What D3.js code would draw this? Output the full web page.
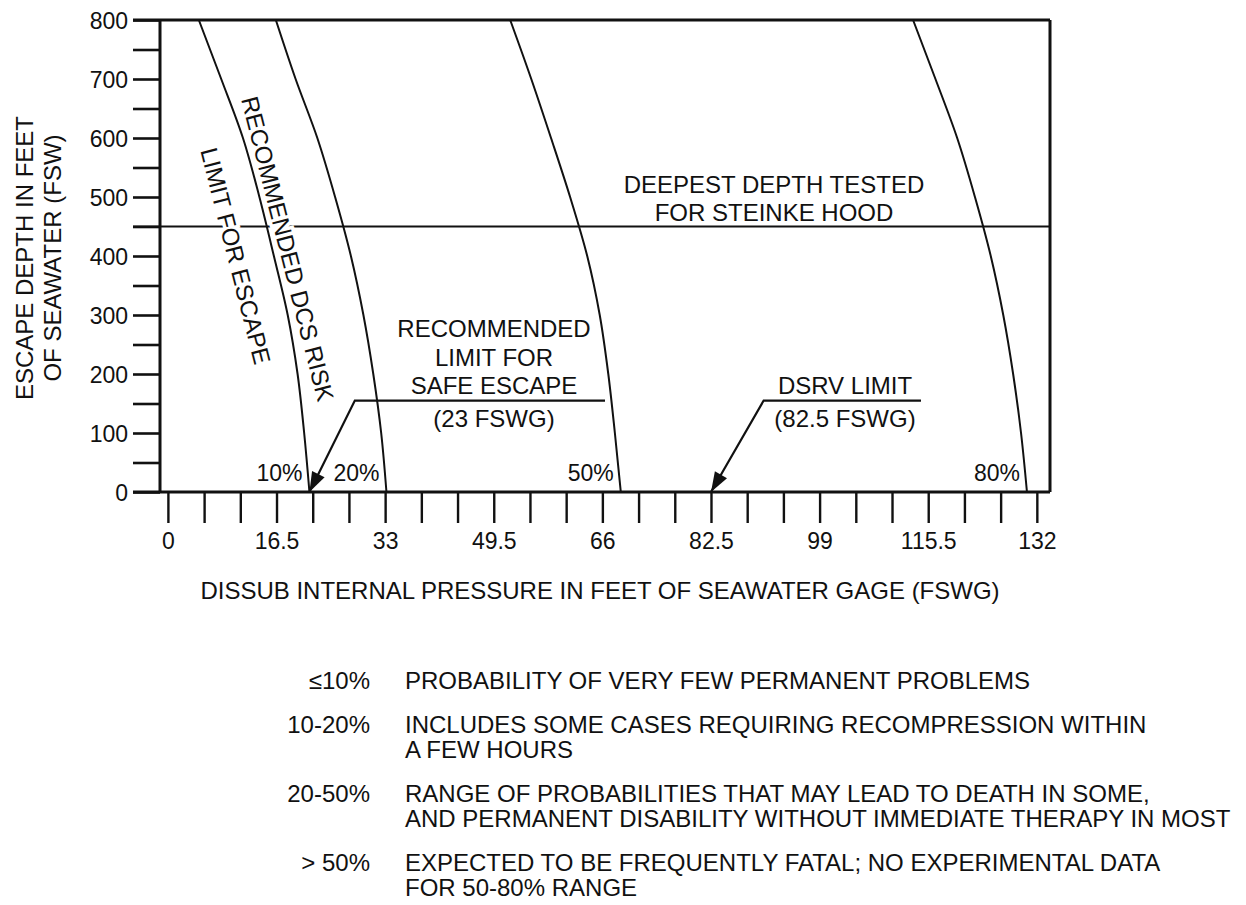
<!DOCTYPE html>
<html>
<head>
<meta charset="utf-8">
<script src="https://cdn.jsdelivr.net/npm/d3@7"></script>
<style>
    body { margin: 0; background: #fff; }
    svg text { font-family: "Liberation Sans", Arial, Helvetica, sans-serif; fill: #111; }
</style>
</head>
<body>
<div id="chart"></div>
<script>

// escape depth levels (fsw) the risk curves are read at
const depthLevels = [800, 700, 600, 500, 400, 300, 200, 100, 0];

// dissub pressure (fswg) of each DCS risk curve at those depths
const curve10 = [4.7, 8.1, 11.4, 13.9, 16.1, 18.2, 19.7, 20.7, 21.5];
const curve20 = [16.4, 19.4, 22.7, 25.4, 27.8, 29.7, 31.2, 32.4, 33.2];
const curve50 = [52.0, 55.2, 58.2, 61.1, 63.7, 65.6, 66.9, 67.9, 68.8];
const curve80 = [113.2, 116.6, 119.9, 122.6, 125.0, 126.9, 128.4, 129.6, 130.5];
const curveLabels = ["10%", "20%", "50%", "80%"];

// axis ticks
const yTicks = [0, 50, 100, 150, 200, 250, 300, 350, 400, 450, 500, 550, 600, 650, 700, 750, 800];
const xTicks = [0, 5.5, 11, 16.5, 22, 27.5, 33, 38.5, 44, 49.5, 55, 60.5, 66, 71.5, 77, 82.5, 88, 93.5, 99, 104.5, 110, 115.5, 121, 126.5, 132];
const xTickLabels = ["0", "16.5", "33", "49.5", "66", "82.5", "99", "115.5", "132"];

// reference values
const hoodDepth = 450;
const safeLimit = 23;
const dsrvLimit = 82.5;

// legend below the chart
const legendRanges = ["\u226410%", "10-20%", "20-50%", "> 50%"];
const legendText = [
    ["PROBABILITY OF VERY FEW PERMANENT PROBLEMS"],
    ["INCLUDES SOME CASES REQUIRING RECOMPRESSION WITHIN", "A FEW HOURS"],
    ["RANGE OF PROBABILITIES THAT MAY LEAD TO DEATH IN SOME,", "AND PERMANENT DISABILITY WITHOUT IMMEDIATE THERAPY IN MOST"],
    ["EXPECTED TO BE FREQUENTLY FATAL; NO EXPERIMENTAL DATA", "FOR 50-80% RANGE"]
];

const width = 1246, height = 905;
const plot = {left: 160, right: 1050, top: 20, bottom: 492};

let svg = d3.select("#chart").append("svg")
    .attr("width", width)
    .attr("height", height);

svg.append("rect").attr("width", width).attr("height", height).attr("fill", "#fff");

// scales
let x = d3.scaleLinear().domain([-1.2, 134.0]).range([plot.left, plot.right]);
let y = d3.scaleLinear().domain([0, 800]).range([plot.bottom, plot.top]);

// y axis ticks
let yAxis = svg.append("g")
    .attr("transform", `translate(${plot.left},0)`)
    .call(d3.axisLeft(y)
        .tickValues(yTicks)
        .tickSize(27)
        .tickPadding(5)
        .tickFormat(d => d % 100 === 0 ? d : ""));
yAxis.select(".domain").remove();
yAxis.selectAll("line").attr("stroke", "#111").attr("stroke-width", 2.6);
yAxis.selectAll("text").style("font-size", "23px").attr("dy", "0.36em");

// x axis ticks
let xAxis = svg.append("g")
    .attr("transform", `translate(0,${plot.bottom})`)
    .call(d3.axisBottom(x)
        .tickValues(xTicks)
        .tickSize(31)
        .tickPadding(10)
        .tickFormat((d, i) => i % 3 === 0 ? xTickLabels[i / 3] : ""));
xAxis.select(".domain").remove();
xAxis.selectAll("line").attr("stroke", "#111").attr("stroke-width", 2.4);
xAxis.selectAll("text").style("font-size", "23px");

// frame
let frame = svg.append("g").attr("stroke", "#111").attr("stroke-width", 3).attr("fill", "none");
frame.append("line").attr("x1", plot.left - 27).attr("x2", plot.right).attr("y1", y(800)).attr("y2", y(800));
frame.append("line").attr("x1", plot.left - 27).attr("x2", plot.right).attr("y1", y(0)).attr("y2", y(0));
frame.append("line").attr("x1", plot.left).attr("x2", plot.left).attr("y1", y(800)).attr("y2", y(0));
frame.append("line").attr("x1", plot.right).attr("x2", plot.right).attr("y1", y(800)).attr("y2", y(0));

// deepest depth tested line
svg.append("line")
    .attr("x1", plot.left - 27).attr("x2", plot.right)
    .attr("y1", y(hoodDepth)).attr("y2", y(hoodDepth))
    .attr("stroke", "#111").attr("stroke-width", 2.2);

// risk curves
let curves = [curve10, curve20, curve50, curve80].map((c, i) => ({
    label: curveLabels[i],
    points: c.map((p, j) => ({p: p, depth: depthLevels[j]}))
}));

let line = d3.line()
    .x(d => x(d.p))
    .y(d => y(d.depth))
    .curve(d3.curveMonotoneY);

svg.append("g").selectAll(".risk")
    .data(curves)
    .enter().append("path")
    .attr("class", "risk")
    .attr("d", d => line(d.points))
    .attr("fill", "none")
    .attr("stroke", "#111")
    .attr("stroke-width", 2);

// curve labels, just left of the foot of each curve
svg.append("g").selectAll(".riskLabel")
    .data(curves)
    .enter().append("text")
    .attr("class", "riskLabel")
    .attr("x", d => x(d.points[d.points.length - 1].p) - 7)
    .attr("y", y(0) - 11)
    .attr("text-anchor", "end")
    .style("font-size", "23px")
    .text(d => d.label);

// text along the 10% curve
let slant = svg.append("g").style("font-size", "24px")
    .attr("stroke", "#fff").attr("stroke-width", 7).attr("paint-order", "stroke");
slant.append("text")
    .attr("transform", "translate(241,99) rotate(75.8)")
    .text("RECOMMENDED DCS RISK");
slant.append("text")
    .attr("transform", "translate(217,146) rotate(75.8)")
    .attr("dy", "0.72em")
    .text("LIMIT FOR ESCAPE");

// deepest depth label
let hood = svg.append("g").style("font-size", "24px").attr("text-anchor", "middle");
hood.append("text").attr("x", 774).attr("y", y(hoodDepth) - 34).text("DEEPEST DEPTH TESTED");
hood.append("text").attr("x", 774).attr("y", y(hoodDepth) - 6).text("FOR STEINKE HOOD");

// arrow helper
function leader(fromX, toX, shelfDepth, tip) {
    let g = svg.append("g");
    let sx = x(fromX), sy = y(shelfDepth);
    let tx = x(tip), ty = y(0);
    g.append("polyline")
        .attr("points", [[x(toX), sy], [sx, sy], [tx, ty]].map(p => p.join(",")).join(" "))
        .attr("fill", "none").attr("stroke", "#111").attr("stroke-width", 2.2);
    let ang = Math.atan2(ty - sy, tx - sx);
    let len = 20, half = 7;
    let bx = tx - len * Math.cos(ang), by = ty - len * Math.sin(ang);
    g.append("path")
        .attr("d", `M${tx},${ty} L${bx + half * Math.sin(ang)},${by - half * Math.cos(ang)} L${bx - half * Math.sin(ang)},${by + half * Math.cos(ang)} Z`)
        .attr("fill", "#111");
}

// safe escape annotation
leader(28.4, 66.4, 155, curve10[curve10.length - 1]);
let safe = svg.append("g").style("font-size", "24px").attr("text-anchor", "middle");
[["RECOMMENDED", 337], ["LIMIT FOR", 366], ["SAFE ESCAPE", 394], ["(" + safeLimit + " FSWG)", 427]].forEach(t => {
    safe.append("text").attr("x", 494).attr("y", t[1]).text(t[0]);
});

// DSRV annotation
leader(90.5, 114.4, 155, dsrvLimit);
let dsrv = svg.append("g").style("font-size", "24px").attr("text-anchor", "middle");
dsrv.append("text").attr("x", 845).attr("y", 394).text("DSRV LIMIT");
dsrv.append("text").attr("x", 845).attr("y", 427).text("(" + dsrvLimit + " FSWG)");

// axis titles
let yTitle = svg.append("g").style("font-size", "24px").attr("text-anchor", "middle");
yTitle.append("text").attr("transform", "translate(33,258) rotate(-90)").text("ESCAPE DEPTH IN FEET");
yTitle.append("text").attr("transform", "translate(61,258) rotate(-90)").text("OF SEAWATER (FSW)");

svg.append("text")
    .attr("x", 600).attr("y", 599)
    .attr("text-anchor", "middle")
    .style("font-size", "24px")
    .text("DISSUB INTERNAL PRESSURE IN FEET OF SEAWATER GAGE (FSWG)");

// legend: each block starts 44px below the last line of the one before
let legend = svg.append("g").style("font-size", "24px");
let rowY = 689;
legendRanges.forEach((r, i) => {
    legend.append("text").attr("x", 370).attr("y", rowY).attr("text-anchor", "end").text(r);
    legendText[i].forEach((t, j) => {
        legend.append("text").attr("x", 405).attr("y", rowY + j * 25).text(t);
    });
    rowY += (legendText[i].length - 1) * 25 + 44;
});

</script>
</body>
</html>
